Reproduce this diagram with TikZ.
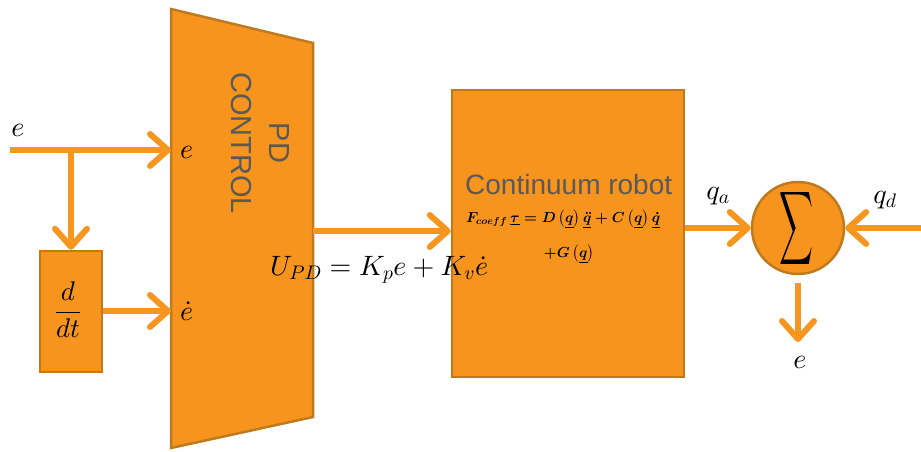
\documentclass[tikz,border=0pt]{standalone}
\usepackage{amsmath}
\usepackage{fontspec}
\DeclareFontShape{OML}{cmm}{m}{it}{<->cmmi10}{}
\DeclareFontShape{OML}{cmm}{b}{it}{<->cmmib10}{}
\DeclareFontShape{OMS}{cmsy}{m}{n}{<->cmsy10}{}
\DeclareFontShape{OMS}{cmsy}{b}{n}{<->cmbsy10}{}
\DeclareFontShape{OT1}{cmr}{m}{n}{<->cmr10}{}
\DeclareFontShape{OT1}{cmr}{bx}{n}{<->cmbx10}{}
\DeclareFontShape{OMX}{cmex}{m}{n}{<->cmex10}{}
\newfontfamily\sansf{Liberation Sans}
\usetikzlibrary{arrows.meta}
\definecolor{orfill}{HTML}{F7941E}
\definecolor{orline}{HTML}{C07A1E}
\definecolor{orarrow}{HTML}{F7961F}
\definecolor{txtgray}{HTML}{595959}
\tikzset{
  block/.style={draw=orline, line width=2.5pt, fill=orfill, inner sep=0pt},
  arr/.style={draw=orarrow, line width=6pt, -{Straight Barb[length=18pt,width=32pt,round]}},
  feed/.style={draw=orarrow, line width=6pt},
  lab/.style={font=\fontsize{28}{32}\selectfont, inner sep=0pt},
}
\begin{document}
\begin{tikzpicture}[x=1pt,y=-1pt]
\useasboundingbox (0,0) rectangle (921,452);
% PD control trapezoid
\draw[block] (171,9) coordinate (pdTL) -- (313,43) coordinate (pdTR) -- (313,417) coordinate (pdBR) -- (171,448) coordinate (pdBL) -- cycle;
\node[rotate=-90, align=center, text=txtgray, font=\sansf\fontsize{29}{38}\selectfont, inner sep=0pt] (pdtxt) at (260,143) {PD\\CONTROL};
\coordinate (pdE) at (171,150);
\coordinate (pdEd) at (171,311);
\coordinate (pdOut) at (313,231);
\node[lab, anchor=west] (pdlabE) at (180,152) {$e$};
\node[lab, anchor=west] (pdlabEd) at (180,311) {$\dot e$};
% d/dt block
\node[block, minimum width=62pt, minimum height=121pt] (dt) at (71,311.5) {};
\node[font=\fontsize{27}{32}\selectfont, inner sep=0pt] (dttxt) at (68,310) {$\dfrac{d}{dt}$};
% robot block
\node[block, minimum width=232pt, minimum height=287pt] (robot) at (568,233.5) {};
\node[text=txtgray, font=\sansf\fontsize{28}{32}\selectfont, inner sep=0pt, anchor=base west] (robtxt) at (465,194) {Continuum robot};
\node[font=\fontsize{14.5}{16}\selectfont, inner sep=0pt, anchor=west] (eq1) at (466,219) {$\boldsymbol{F_{coeff}\,\underline{\tau} = D\left(\underline{q}\right)\underline{\ddot q}+C\left(\underline{q}\right)\underline{\dot q}}$};
\node[font=\fontsize{14.5}{16}\selectfont, inner sep=0pt] (eq2) at (569,254) {$\boldsymbol{+G\left(\underline{q}\right)}$};
\node[font=\fontsize{28}{30}\selectfont, inner sep=0pt, anchor=west] (upd) at (270,270) {$U_{PD} = K_p e + K_v \dot e$};
% sum
\node[block, circle, minimum size=92pt] (sum) at (798,228) {};
\node[inner sep=0pt] (sumtxt) at (796,229) {\resizebox{34pt}{54pt}{$\displaystyle\sum$}};
% free ends
\coordinate (ein) at (10,150);
\coordinate (br) at (71,150);
\coordinate (qdin) at (921,228);
\coordinate (eout) at (798,342);
% connectors
\draw[feed] (ein) -- (br);
\draw[arr] (br) -- (pdE);
\draw[arr] (br) -- (dt.north);
\draw[arr] (dt.east |- pdEd) -- (pdEd);
\draw[arr] (pdOut) -- (robot.west |- pdOut);
\draw[arr] (robot.east |- sum.west) -- (sum.west);
\draw[arr] (qdin) -- (sum.east);
\draw[arr] ([yshift=-8pt]sum.south) -- (eout);
% labels
\node[lab] (le) at (18,130) {$e$};
\node[lab] (lqa) at (718,196) {$q_a$};
\node[lab] (lqd) at (885,200) {$q_d$};
\node[lab] (leo) at (800,362) {$e$};
\end{tikzpicture}
\end{document}
